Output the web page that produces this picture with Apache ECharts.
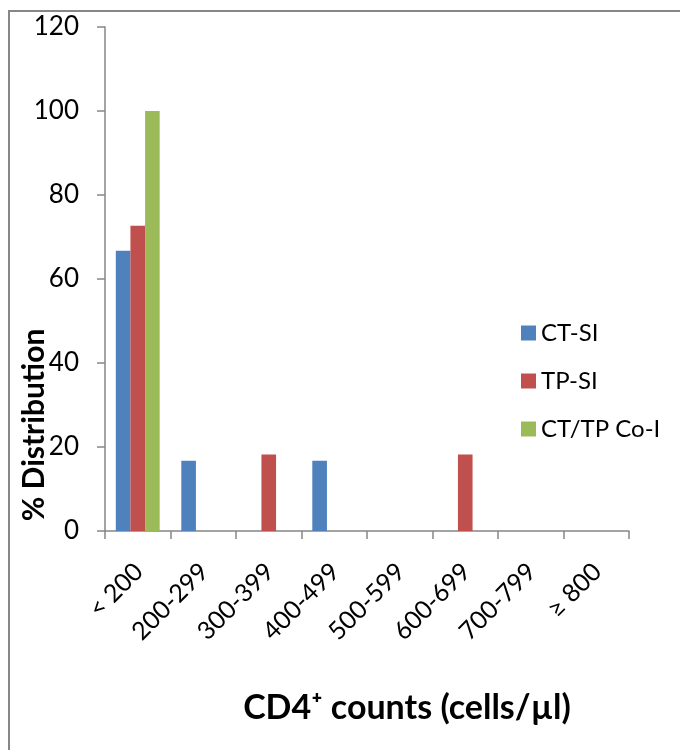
<!DOCTYPE html>
<html>
<head>
<meta charset="utf-8">
<script src="https://cdn.jsdelivr.net/npm/echarts@6/dist/echarts.min.js"></script>
<style>
html,body{margin:0;padding:0;background:#fff;}
#chart{width:680px;height:750px;position:absolute;left:0;top:0;}
#frame{position:absolute;left:8px;top:10px;width:700px;height:760px;border-left:2px solid #878787;border-top:2px solid #878787;pointer-events:none;box-sizing:border-box;}
</style>
</head>
<body>
<div id="chart"></div>
<div id="frame"></div>
<script>
const categories = ['< 200', '200-299', '300-399', '400-499', '500-599', '600-699', '700-799', '\u2265 800'];
const ctSI = [66.7, 16.7, 0, 16.7, 0, 0, 0, 0];
const tpSI = [72.7, 0, 18.2, 0, 0, 18.2, 0, 0];
const coI = [100, 0, 0, 0, 0, 0, 0, 0];
const seriesNames = ['CT-SI', 'TP-SI', 'CT/TP Co-I'];
const yTicks = { min: 0, max: 120, interval: 20 };
const xTitle = 'CD4\u207A counts (cells/\u00B5l)';
const yTitle = '% Distribution';

const FONT = 'Lato, "Open Sans", sans-serif';
const axisColor = '#868686';
const chart = echarts.init(document.getElementById('chart'), null, { renderer: 'canvas' });

function bar(name, data, color) {
  return {
    name: name, type: 'bar', data: data,
    barGap: '0%', barCategoryGap: '33%',
    itemStyle: { color: color },
    emphasis: { disabled: true }
  };
}

chart.setOption({
  animation: false,
  backgroundColor: '#fff',
  grid: { left: 105, right: 51, top: 27, bottom: 219, containLabel: false },
  legend: {
    orient: 'vertical', left: 516, top: 316,
    itemWidth: 15, itemHeight: 15, itemGap: 24,
    icon: 'rect',
    textStyle: { fontFamily: FONT, fontSize: 24, color: '#000' },
    data: seriesNames
  },
  graphic: [
    {
      type: 'text', x: 407, y: 708,
      style: { text: xTitle, fontFamily: FONT, fontSize: 34, fontWeight: 'bold', fill: '#000', align: 'center', verticalAlign: 'middle' }
    },
    {
      type: 'text', x: 34, y: 425, rotation: Math.PI / 2,
      style: { text: yTitle, fontFamily: FONT, fontSize: 30, fontWeight: 'bold', fill: '#000', align: 'center', verticalAlign: 'middle' }
    }
  ],
  xAxis: {
    type: 'category', data: categories, boundaryGap: true,
    axisLine: { lineStyle: { color: axisColor, width: 1.5 } },
    axisTick: { show: true, inside: false, length: 8, alignWithLabel: false, lineStyle: { color: axisColor, width: 1.5 } },
    axisLabel: {
      interval: 0, rotate: 45, margin: 20, verticalAlign: 'top', padding: [0, 11, 0, 0],
      fontFamily: FONT, fontSize: 25, color: '#000'
    },
    splitLine: { show: false }
  },
  yAxis: {
    type: 'value', min: yTicks.min, max: yTicks.max, interval: yTicks.interval,
    axisLine: { show: true, lineStyle: { color: axisColor, width: 1.5 } },
    axisTick: { show: true, inside: false, length: 8, lineStyle: { color: axisColor, width: 1.5 } },
    axisLabel: { margin: 26, fontFamily: FONT, fontSize: 26, color: '#000' },
    splitLine: { show: false }
  },
  series: [
    bar(seriesNames[0], ctSI, '#4F81BD'),
    bar(seriesNames[1], tpSI, '#C0504D'),
    bar(seriesNames[2], coI, '#9BBB59')
  ]
});
</script>
</body>
</html>
